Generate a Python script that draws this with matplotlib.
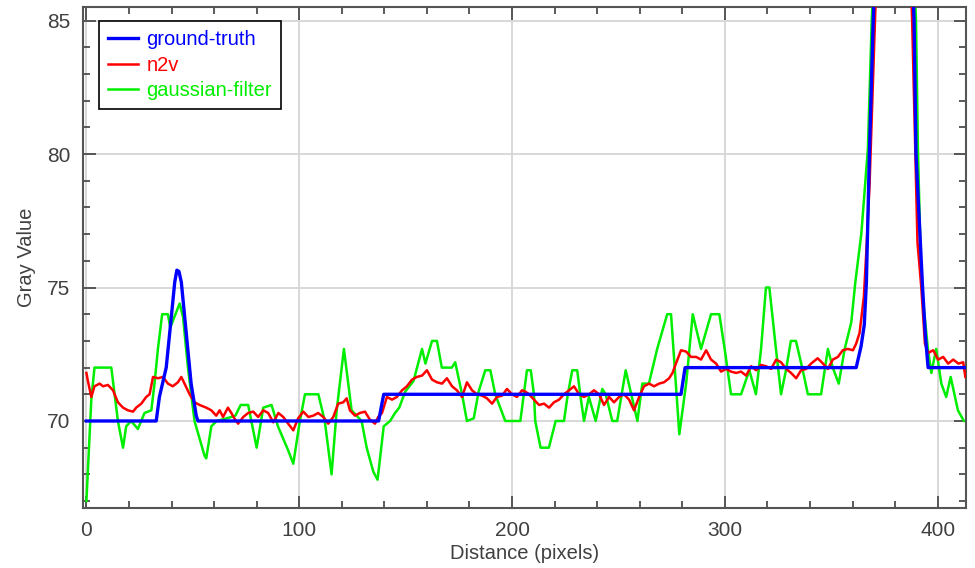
import matplotlib
matplotlib.use('Agg')
import matplotlib.pyplot as plt
from matplotlib.ticker import MultipleLocator

# ground-truth profile (vertices)
gt_x = [0, 32.8, 34.3, 37.5, 39.9, 41.5, 42.5, 43.5, 44.6, 46.9, 49.2, 51.6, 52.4,
        137.3, 139.7, 279.4, 281.3, 361.7, 364, 365.5, 366.5, 367.9, 369.7, 379.5,
        388.9, 389.8, 392.9, 394.2, 395.5, 413]
gt_y = [70, 70, 70.9, 72.0, 73.9, 75.2, 75.65, 75.6, 75.2, 73.3, 71.4, 70.2, 70,
        70, 71, 71, 72, 72, 72.8, 73.6, 75.2, 80, 85, 105,
        85, 80, 75, 73.2, 72, 72]

# n2v profile
n2v_x = [0, 0.7, 2.3, 3.8, 6.2, 7.8, 10.1, 12.5, 14.8, 17.2, 19.5, 21.9, 23.4, 25.8,
         28.1, 29.7, 31.3, 33.6, 36, 38.3, 40.6, 43, 44.6, 46.1, 48.5, 50.8, 53.2,
         56.3, 58.7, 61, 62.6, 64.2, 66.5, 68.1, 69.5, 71.3, 73.7, 76, 78.4, 80.7,
         83.1, 85.4, 87.8, 90.2, 92.5, 94.8, 97.2, 99.5, 101.9, 104.3, 106.6, 108.9,
         111.3, 113.6, 116, 118.3, 120.7, 122.3, 123.8, 126.2, 128.5, 130.9, 133.2,
         135.6, 137.1, 138.9, 141.2, 143.6, 145.9, 148.3, 150.6, 153, 155.3, 157.7,
         160, 162.4, 164.7, 167.1, 169.4, 171.8, 174.1, 176.5, 178.8, 181.2, 183.5,
         185.9, 188.2, 190.6, 192.9, 195.3, 197.6, 200, 202.3, 204.7, 206.2, 208,
         210.3, 212.7, 215, 217.4, 219.7, 222.1, 224.4, 226.8, 229.1, 231.5, 233.8,
         236.2, 238.5, 240.9, 243.2, 245.6, 247.9, 250.3, 252.6, 255, 257.3, 259.7,
         262, 264.4, 266.7, 269.1, 271.4, 273.8, 275.4, 277, 279.4, 281.8, 284.1,
         286.5, 288.8, 291.2, 293.5, 295.9, 298.2, 300.6, 302.9, 305.3, 307.6, 310,
         312.3, 314.7, 317, 319.4, 321.7, 324.1, 326.4, 328.8, 331.1, 333.5, 335.8,
         338.2, 340.5, 343.6, 346.1, 348.4, 350.7, 353.1, 355.4, 357.8, 360.2, 361.7,
         363.3, 365.3, 366.5, 368, 370.5, 379.5, 388, 389.5, 390.5, 392.3, 394,
         395.5, 397.9, 400.2, 402.6, 404.9, 407.3, 409.7, 412, 413]
n2v_y = [71.8, 71.5, 70.9, 71.3, 71.4, 71.3, 71.35, 71.15, 70.7, 70.5, 70.4, 70.35,
         70.5, 70.65, 70.9, 71.0, 71.65, 71.6, 71.65, 71.4, 71.3, 71.45, 71.65, 71.4,
         71.0, 70.7, 70.6, 70.5, 70.4, 70.2, 70.4, 70.15, 70.5, 70.3, 70.1, 69.9,
         70.15, 70.3, 70.35, 70.15, 70.4, 70.3, 69.95, 70.3, 70.15, 69.9, 69.65, 70.1,
         70.35, 70.15, 70.2, 70.3, 70.15, 69.9, 70.15, 70.65, 70.7, 70.85, 70.4, 70.2,
         70.3, 70.35, 70.05, 69.9, 70.15, 70.3, 70.9, 70.8, 70.9, 71.15, 71.3, 71.55,
         71.65, 71.7, 71.9, 71.55, 71.45, 71.4, 71.6, 71.3, 71.15, 70.9, 71.45, 71.15,
         71.0, 70.95, 70.85, 70.65, 70.9, 70.95, 71.2, 71.0, 70.9, 71.15, 71.1, 71.0,
         70.8, 70.6, 70.65, 70.5, 70.7, 70.8, 71.0, 71.15, 71.3, 71.0, 70.9, 71.0,
         71.15, 71.0, 70.6, 70.9, 70.7, 70.9, 71.0, 70.8, 70.4, 70.9, 71.3, 71.4,
         71.3, 71.4, 71.45, 71.6, 71.8, 72.15, 72.65, 72.6, 72.4, 72.4, 72.3, 72.65,
         72.3, 72.15, 71.85, 71.95, 71.85, 71.8, 71.85, 71.7, 72.05, 71.9, 72.1, 72.05,
         71.95, 72.3, 72.2, 71.95, 71.8, 71.6, 71.9, 71.95, 72.15, 72.35, 72.15, 71.95,
         72.3, 72.4, 72.65, 72.7, 72.65, 72.9, 73.3, 74.65, 76.4, 78.9, 85, 105, 85,
         80, 76.7, 75.0, 72.9, 72.55, 72.65, 72.3, 72.4, 72.15, 72.3, 72.15, 72.2,
         71.65]

# gaussian-filter profile (turning points)
gauss_x = [0, 2.3, 3.8, 11.7, 14.8, 17.2, 18.7, 21, 24.2, 27.3, 30.5, 32, 33.6, 35.6,
           38.3, 39.4, 43.8, 45.4, 47.7, 50.8, 55.5, 56.3, 58.7, 61.2, 66, 70, 72.5,
           76, 80, 83.1, 87, 90, 94.8, 97.2, 100.3, 102.7, 109, 112, 115.2, 117.6, 121,
           124.6, 129.3, 131.7, 134.8, 136.8, 139.7, 142.7, 145, 147, 149.8, 153.7,
           157.7, 159.3, 162.4, 164.7, 167, 171.7, 173.3, 176.5, 178.8, 182, 184.3,
           187.4, 189.8, 192.1, 196.8, 203.9, 207, 208.8, 210.3, 210.9, 213.4, 217.3,
           220.5, 224.4, 226.2, 228.3, 230.6, 232.2, 233.8, 236.1, 239.3, 242.4, 244,
           247.1, 249.4, 253.4, 258.9, 261.2, 264.3, 268.2, 272.9, 274.7, 278.6, 281.8,
           284.9, 288.8, 293.5, 297.4, 299.9, 302.9, 307.6, 311.5, 314.6, 317, 319.3,
           320.9, 324, 326.4, 328.7, 331, 333.4, 336.6, 339, 345.2, 348.4, 350.7, 353.5,
           356.3, 359.4, 361.3, 364.1, 367.2, 369, 379.5, 389.8, 390.7, 392.3, 395.4,
           397, 399.3, 401.7, 404, 406.1, 409.5, 412.3, 413]
gauss_y = [67.0, 70.8, 72.0, 72.0, 70.0, 69.0, 69.8, 70.0, 69.7, 70.3, 70.4, 71.4,
           72.7, 74.0, 74.0, 73.5, 74.4, 73.9, 72.0, 70.0, 68.7, 68.6, 69.8, 70.0, 70.1,
           70.2, 70.6, 70.6, 69.0, 70.5, 70.6, 69.8, 68.9, 68.4, 70.0, 71.0, 71.0, 70.0,
           68.0, 70.4, 72.7, 70.4, 70.0, 69.0, 68.1, 67.8, 69.8, 70.0, 70.3, 70.5, 71.1,
           71.5, 72.7, 72.15, 73.0, 73.0, 72.0, 72.0, 72.2, 71.0, 70.0, 70.1, 71.1, 71.9,
           71.9, 71.0, 70.0, 70.0, 71.9, 71.9, 71.0, 70.0, 69.0, 69.0, 70.0, 70.0, 71.0,
           71.9, 71.9, 70.9, 70.0, 70.9, 70.0, 71.2, 71.0, 70.0, 70.0, 71.9, 70.0, 71.4,
           71.4, 72.7, 74.0, 74.0, 69.5, 71.4, 74.0, 72.7, 74.0, 74.0, 72.7, 71.0, 71.0,
           71.9, 71.0, 72.7, 75.0, 75.0, 72.7, 71.0, 71.9, 73.0, 73.0, 71.9, 71.0, 71.0,
           72.7, 72.0, 71.4, 72.7, 73.7, 75.2, 77.0, 80.2, 85, 105, 85, 80.2, 75.2, 72.7,
           71.8, 72.7, 71.4, 70.9, 71.65, 70.4, 70.0, 70.0]

labels = ['ground-truth', 'n2v', 'gaussian-filter']

plt.rcParams['font.family'] = ['Liberation Sans', 'DejaVu Sans']
text_color = '#404040'

fig = plt.figure(figsize=(9.75, 5.68), dpi=100)
ax = fig.add_axes([83 / 975, 1 - 508 / 568, (966 - 83) / 975, (508 - 7) / 568])

# the three profiles
ax.plot(n2v_x, n2v_y, color='#ff0000', lw=1.8, label=labels[1], zorder=3)
ax.plot(gauss_x, gauss_y, color='#00ee00', lw=1.8, label=labels[2], zorder=2)
ax.plot(gt_x, gt_y, color='#0000ff', lw=2.4, label=labels[0], zorder=4)

ax.set_xlim(-1.6, 413.3)
ax.set_ylim(66.74, 85.51)

# ticks on all four sides, pointing in
ax.xaxis.set_major_locator(MultipleLocator(100))
ax.xaxis.set_minor_locator(MultipleLocator(20))
ax.yaxis.set_major_locator(MultipleLocator(5))
ax.yaxis.set_minor_locator(MultipleLocator(1))
ax.tick_params(which='both', direction='in', top=True, right=True,
               colors=text_color, labelsize=15, width=1.2)
ax.tick_params(which='major', length=9, pad=9)
ax.tick_params(which='minor', length=5)
for s in ax.spines.values():
    s.set_color('#555555')
    s.set_linewidth(1.5)

ax.grid(True, which='major', color='#d6d6d6', lw=1.3, zorder=0)
ax.set_axisbelow(True)

ax.set_xlabel('Distance (pixels)', fontsize=14.5, color=text_color, labelpad=3)
ax.set_ylabel('Gray Value', fontsize=14.5, color=text_color, labelpad=8)

# legend, in the order of the reference
h, l = ax.get_legend_handles_labels()
order = [l.index(name) for name in labels]
leg = ax.legend([h[i] for i in order], [l[i] for i in order],
                loc='upper left', bbox_to_anchor=(99 / 975, 1 - 21 / 568),
                bbox_transform=fig.transFigure, fontsize=14.5, fancybox=False,
                framealpha=1, edgecolor='black', borderpad=0.45,
                labelspacing=0.33, handlelength=1.5, handletextpad=0.4,
                borderaxespad=0, labelcolor='linecolor')
leg.get_frame().set_linewidth(1.2)

fig.savefig('out.png', dpi=100)
